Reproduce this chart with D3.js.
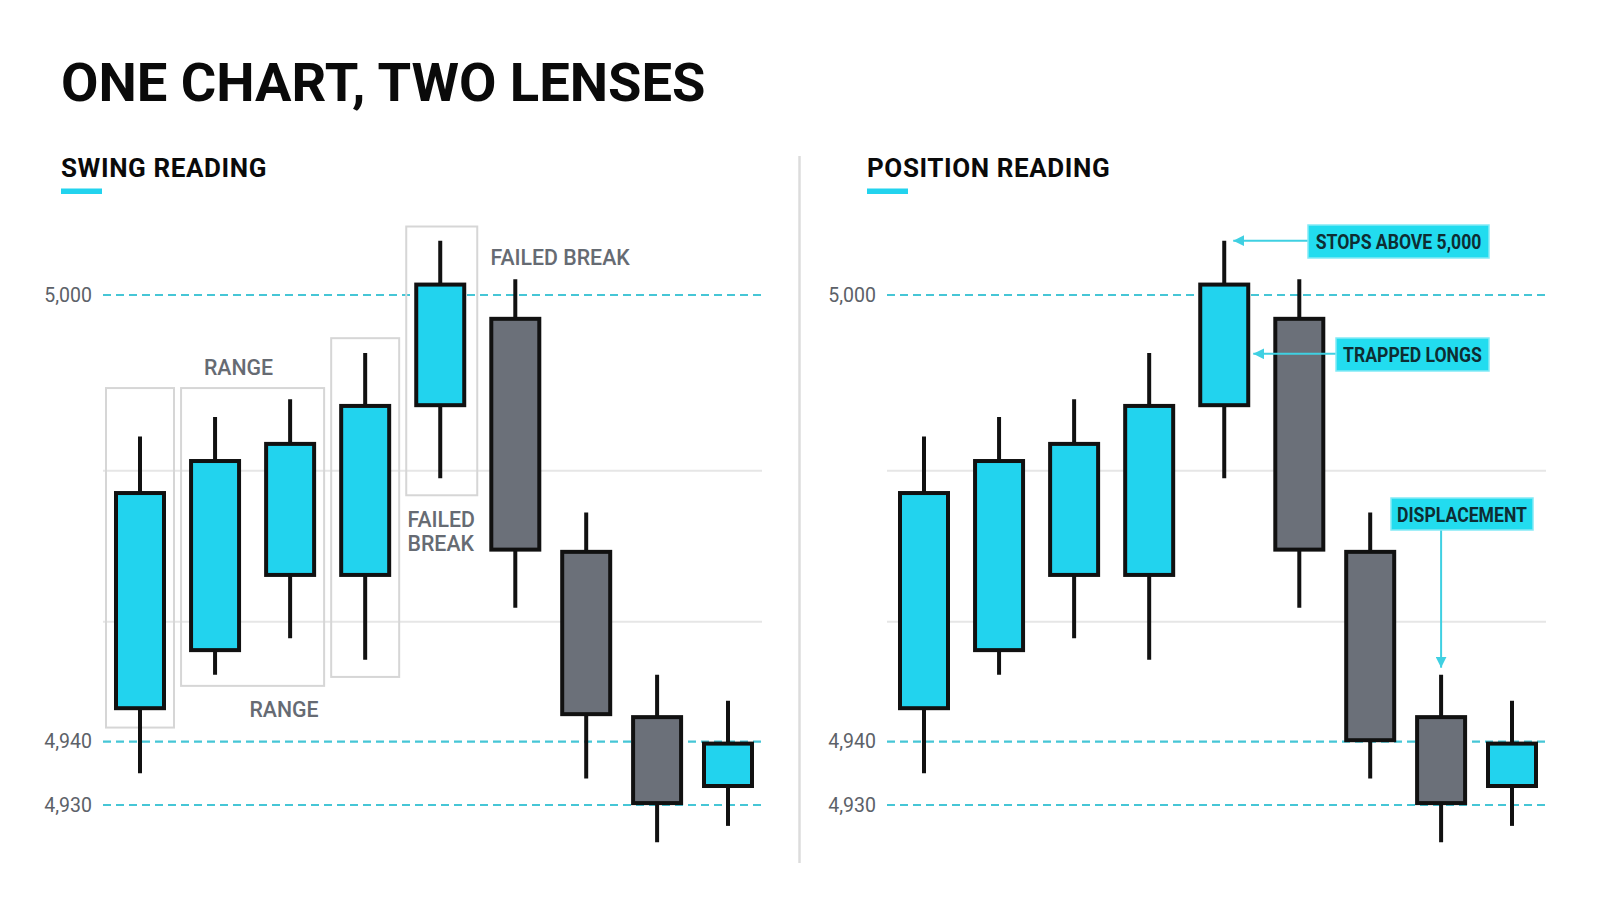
<!DOCTYPE html>
<html>
<head>
<meta charset="utf-8">
<script src="https://cdn.jsdelivr.net/npm/d3@7"></script>
<style>
  html, body { margin: 0; padding: 0; background: #ffffff; }
  svg { display: block; font-family: Roboto, "Noto Sans", sans-serif; }
</style>
</head>
<body>
<svg id="chart" width="1600" height="914"></svg>
<script>
// ---------------- DATA ----------------
const candles = ["C1", "C2", "C3", "C4", "C5", "C6", "C7", "C8", "C9"];
const opens  = [4944.5, 4952.3, 4962.4, 4962.4, 4985.2, 4996.8, 4965.5, 4943.3, 4933.0];
const highs  = [4981.0, 4983.6, 4986.0, 4992.2, 5007.3, 5002.1, 4970.8, 4949.0, 4945.5];
const lows   = [4935.0, 4949.0, 4953.9, 4951.0, 4975.4, 4958.0, 4934.2, 4924.1, 4926.7];
const closesSwing    = [4973.4, 4977.7, 4980.0, 4985.1, 5001.4, 4965.8, 4943.7, 4930.3, 4939.7];
const closesPosition = [4973.4, 4977.7, 4980.0, 4985.1, 5001.4, 4965.8, 4940.2, 4930.3, 4939.7];

const levelTicks = [5000, 4940, 4930];
const gridValues = [4976.4, 4956.1];

const titleText = "ONE CHART, TWO LENSES";
const panelTitles = ["SWING READING", "POSITION READING"];

// swing-reading boxes: candle index range and price range
const rangeBoxes = [
  { i0: 0, i1: 0, hi: 4987.5, lo: 4941.9 },
  { i0: 1, i1: 2, hi: 4987.5, lo: 4947.5 },
  { i0: 3, i1: 3, hi: 4994.2, lo: 4948.7 },
  { i0: 4, i1: 4, hi: 5009.2, lo: 4973.1 }
];
const swingLabels = ["RANGE", "RANGE", "FAILED BREAK", "FAILED", "BREAK"];
const positionLabels = ["STOPS ABOVE 5,000", "TRAPPED LONGS", "DISPLACEMENT"];

// ---------------- STYLE ----------------
const CYAN = "#22d3ee";
const GREY = "#6b7079";
const INK = "#111111";
const DASH = "#46c6d6";

const svg = d3.select("#chart");

// title
svg.append("text")
  .attr("x", 61).attr("y", 101)
  .attr("font-size", 54.3).attr("font-weight", 700)
  .attr("fill", "#0a0a0a")
  .text(titleText);

// divider
svg.append("line")
  .attr("x1", 799.5).attr("x2", 799.5).attr("y1", 156).attr("y2", 863)
  .attr("stroke", "#dcdcdc").attr("stroke-width", 2.5);

const y = d3.scaleLinear().domain([4930, 4940, 5000]).range([805, 741.7, 295]);

function drawPanel(offset, titleX, title, closes) {
  const g = svg.append("g");
  const x = d3.scaleLinear().domain([0, 5, 8]).range([140 + offset, 515.3 + offset, 728 + offset]);
  const left = 103 + offset, right = 762 + offset;

  // panel title + underline
  g.append("text")
    .attr("x", titleX).attr("y", 176.5)
    .attr("font-size", 26).attr("font-weight", 700).attr("fill", "#0a0a0a")
    .attr("letter-spacing", 0.6)
    .text(title);
  g.append("rect")
    .attr("x", titleX).attr("y", 188.5).attr("width", 41).attr("height", 5.5)
    .attr("fill", CYAN);

  // gridlines
  g.selectAll(".grid").data(gridValues).join("line")
    .attr("x1", left).attr("x2", right)
    .attr("y1", d => y(d)).attr("y2", d => y(d))
    .attr("stroke", "#e6e6e6").attr("stroke-width", 2);

  // dashed level lines
  g.selectAll(".lvl").data(levelTicks).join("line")
    .attr("x1", left).attr("x2", right)
    .attr("y1", d => y(d)).attr("y2", d => y(d))
    .attr("stroke", DASH).attr("stroke-width", 2.2)
    .attr("stroke-dasharray", "8,5");

  // axis labels
  const axis = d3.axisLeft(y).tickValues(levelTicks).tickSize(0).tickPadding(11)
    .tickFormat(d3.format(","));
  const ag = g.append("g").attr("transform", `translate(${left},0)`).call(axis);
  ag.select(".domain").remove();
  ag.selectAll("text")
    .attr("font-family", "Roboto, sans-serif")
    .attr("font-size", 19.5).attr("fill", "#5c6168");

  const data = candles.map((c, i) => ({
    i, o: opens[i], h: highs[i], l: lows[i], c: closes[i]
  }));

  return { g, x, data };
}

function drawCandles(g, x, data) {
  const bw = 48;
  g.selectAll(".wick").data(data).join("line")
    .attr("x1", d => x(d.i)).attr("x2", d => x(d.i))
    .attr("y1", d => y(d.h)).attr("y2", d => y(d.l))
    .attr("stroke", INK).attr("stroke-width", 4);
  g.selectAll(".body").data(data).join("rect")
    .attr("x", d => x(d.i) - bw / 2)
    .attr("y", d => y(Math.max(d.o, d.c)))
    .attr("width", bw)
    .attr("height", d => Math.abs(y(d.o) - y(d.c)))
    .attr("fill", d => d.c >= d.o ? CYAN : GREY)
    .attr("stroke", INK).attr("stroke-width", 4);
}

// ---------------- LEFT: SWING ----------------
{
  const { g, x, data } = drawPanel(0, 61, panelTitles[0], closesSwing);
  // boxes (behind candles)
  g.selectAll(".rbox").data(rangeBoxes).join("rect")
    .attr("x", d => x(d.i0) - 34)
    .attr("y", d => y(d.hi))
    .attr("width", d => x(d.i1) - x(d.i0) + 68 + (d.i0 === 4 ? 3 : 0))
    .attr("height", d => y(d.lo) - y(d.hi))
    .attr("fill", "none").attr("stroke", "#d6d6d6").attr("stroke-width", 2);
  drawCandles(g, x, data);

  const lab = (t, xx, yy, anchor) => g.append("text")
    .attr("x", xx).attr("y", yy).attr("text-anchor", anchor)
    .attr("font-size", 21.3).attr("font-weight", 500).attr("fill", "#666b73")
    .text(t);
  lab(swingLabels[0], 238.5, 375, "middle");
  lab(swingLabels[1], 284, 716.5, "middle");
  lab(swingLabels[2], 490.5, 264.5, "start");
  lab(swingLabels[3], 407.5, 526.5, "start");
  lab(swingLabels[4], 407.5, 550.5, "start");
}

// ---------------- RIGHT: POSITION ----------------
{
  const { g, x, data } = drawPanel(784, 867, panelTitles[1], closesPosition);
  drawCandles(g, x, data);

  const defs = svg.append("defs");
  defs.append("marker").attr("id", "arr")
    .attr("viewBox", "0 0 10 10").attr("refX", 10).attr("refY", 5)
    .attr("markerWidth", 11).attr("markerHeight", 11).attr("markerUnits", "userSpaceOnUse")
    .attr("orient", "auto")
    .append("path").attr("d", "M0,0 L10,5 L0,10 Z").attr("fill", "#3fd0e2");

  const callout = (t, bx, by, bw, bh, x1, y1, x2, y2) => {
    g.append("line")
      .attr("x1", x1).attr("y1", y1).attr("x2", x2).attr("y2", y2)
      .attr("stroke", "#3fd0e2").attr("stroke-width", 2)
      .attr("marker-end", "url(#arr)");
    g.append("rect")
      .attr("x", bx).attr("y", by).attr("width", bw).attr("height", bh)
      .attr("fill", "#22dcef").attr("stroke", "#84eaf6").attr("stroke-width", 1.5);
    const tx = g.append("text")
      .attr("x", bx + bw / 2).attr("y", by + bh / 2 + 7.5)
      .attr("text-anchor", "middle")
      .attr("font-size", 20).attr("font-weight", 700).attr("fill", "#0e2d33")
      .text(t);
    const w = tx.node().getComputedTextLength();
    tx.attr("textLength", w * 0.88).attr("lengthAdjust", "spacingAndGlyphs");
  };

  const hx = x(4), hy = y(highs[4]);
  callout(positionLabels[0], 1308, 225, 181, 33, 1308, hy, hx + 9, hy);
  const ty = y(4992.1);
  callout(positionLabels[1], 1336, 338, 153, 33, 1336, ty, hx + 29, ty);
  const dx = x(7), dy = y(highs[7]) - 7;
  callout(positionLabels[2], 1391, 498, 142, 32, dx, 530, dx, dy);
}
</script>
</body>
</html>
